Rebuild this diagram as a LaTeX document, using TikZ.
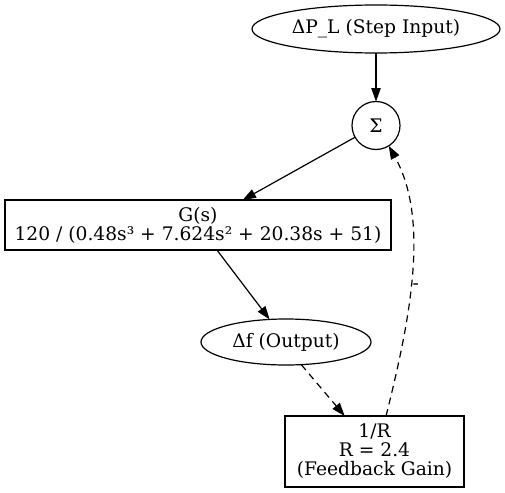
\documentclass[tikz,border=0pt]{standalone}
\usepackage{fontspec}
\setmainfont{DejaVu Serif}
\usetikzlibrary{arrows.meta,shapes.geometric}
\begin{document}
\begin{tikzpicture}[x=1pt,y=-1pt,
  base/.style={draw, line width=1.2pt, inner sep=0pt, outer sep=0pt, align=center,
    font=\fontsize{18.67}{19}\selectfont},
  oval/.style={base, ellipse},
  block/.style={base, rectangle},
  junction/.style={base, circle, minimum size=48pt},
  flow/.style={line width=1.2pt, -{Triangle[length=13.3pt,width=9.3pt]}},
  feedback/.style={flow, dash pattern=on 7pt off 5pt},
  sign/.style={inner sep=0pt, font=\fontsize{18.67}{19}\selectfont}
]
\useasboundingbox (0,0) rectangle (505,492);

\node[oval, minimum width=248pt, minimum height=48pt] (load) at (376,29) {ΔP\_L (Step Input)};
\node[junction] (sum) at (376,125.5) {Σ};
\node[block, minimum width=386pt, minimum height=50pt] (plant) at (198,225)
  {G(s)\\120 / (0.48s³ + 7.624s² + 20.38s + 51)};
\node[oval, minimum width=170pt, minimum height=46pt] (out) at (286,342) {Δf (Output)};
\node[block, minimum width=179pt, minimum height=71pt] (gain) at (374.5,451.5)
  {1/R\\R = 2.4\\(Feedback Gain)};

\draw[flow] (load) -- (sum);
\draw[flow] (sum) -- (plant);
\draw[flow] (plant) -- (out.126);
\draw[feedback] (out.-56) -- (gain.130);
\draw[feedback] (gain.72) .. controls (410,320) and (430,220) .. (sum.-58);
\node[sign, anchor=base west] (minus) at (412.5,289.5) {-};
\end{tikzpicture}
\end{document}
